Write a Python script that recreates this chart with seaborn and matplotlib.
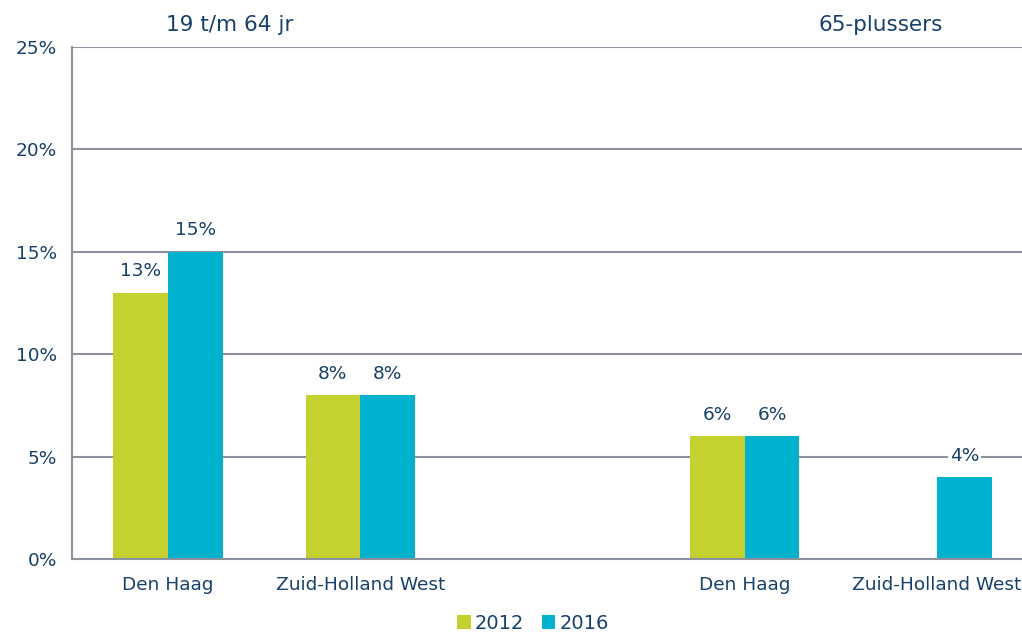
import matplotlib
matplotlib.use("Agg")
import matplotlib.pyplot as plt
import seaborn as sns
import pandas as pd
import numpy as np
from matplotlib.patches import Patch

# ---- data ----
slots = ["19-64 Den Haag", "19-64 Zuid-Holland West", "gap", "65+ Den Haag", "65+ Zuid-Holland West"]
slot_labels = ["Den Haag", "Zuid-Holland West", "", "Den Haag", "Zuid-Holland West"]
years = ["2012", "2016"]
values_2012 = [13, 8, np.nan, 6, np.nan]
values_2016 = [15, 8, np.nan, 6, 4]
group_titles = ["19 t/m 64 jr", "65-plussers"]
yticks = [0, 5, 10, 15, 20, 25]

colors = {"2012": "#C4D12F", "2016": "#00B2CE"}
text_color = "#17406B"
grid_color = "#8C939E"
fs = 13.3

rows = []
for s, v12, v16 in zip(slots, values_2012, values_2016):
    rows.append({"slot": s, "year": "2012", "value": v12})
    rows.append({"slot": s, "year": "2016", "value": v16})
df = pd.DataFrame(rows)

sns.set_theme(style="white")
plt.rcParams["font.family"] = ["DejaVu Sans"]

fig = plt.figure(figsize=(10.22, 6.36), dpi=100)
ax = fig.add_axes([72 / 1022, 77 / 636, (1033 - 72) / 1022, (559 - 47) / 636])

sns.barplot(data=df.dropna(), x="slot", y="value", hue="year", order=slots,
            hue_order=years, palette=colors, width=0.57, ax=ax,
            legend=False, saturation=1, errorbar=None, linewidth=0)

ax.set_xlim(-0.5, 4.5)
ax.set_ylim(0, 25)
ax.set_yticks(yticks)
ax.set_yticklabels([f"{t}%" for t in yticks], color=text_color, fontsize=fs)
ax.yaxis.grid(True, color=grid_color, linewidth=1.5)
ax.set_axisbelow(True)

ax.set_xticks(np.arange(-0.5, 5.0, 1.0))
ax.set_xticklabels([])
ax.set_xticks(np.arange(0, 5), minor=True)
ax.set_xticklabels(slot_labels, minor=True, color=text_color, fontsize=fs)
ax.tick_params(axis="x", which="major", length=6, width=1.5, color=grid_color, direction="out")
ax.tick_params(axis="x", which="minor", length=0, pad=12)
ax.tick_params(axis="y", length=5, width=1.5, color=grid_color, direction="out", pad=6)
ax.set_xlabel("")
ax.set_ylabel("")

for sp in ["top", "right"]:
    ax.spines[sp].set_visible(False)
for sp in ["left", "bottom"]:
    ax.spines[sp].set_color(grid_color)
    ax.spines[sp].set_linewidth(1.5)

for cont in ax.containers:
    labels = ["" if np.isnan(v) else f"{int(round(v))}%" for v in cont.datavalues]
    txts = ax.bar_label(cont, labels=labels, padding=9, color=text_color, fontsize=fs)
    for t in txts:
        t.set_bbox(dict(facecolor="white", edgecolor="none", pad=1.5))

# group titles
ax.text(0.318, 1.043, group_titles[0], transform=ax.get_xaxis_transform(),
        ha="center", va="center", color=text_color, fontsize=15.5)
ax.text(3.708, 1.043, group_titles[1], transform=ax.get_xaxis_transform(),
        ha="center", va="center", color=text_color, fontsize=15.5)

handles = [Patch(facecolor=colors[y], edgecolor="none", label=y) for y in years]
leg = fig.legend(handles=handles, loc="upper center", bbox_to_anchor=(533 / 1022, 22 / 636),
                 ncol=2, frameon=False, handlelength=0.7, handleheight=0.7,
                 handletextpad=0.2, columnspacing=0.9, fontsize=14,
                 borderaxespad=0, borderpad=0)
for t in leg.get_texts():
    t.set_color(text_color)

fig.savefig("out.png", dpi=100)
